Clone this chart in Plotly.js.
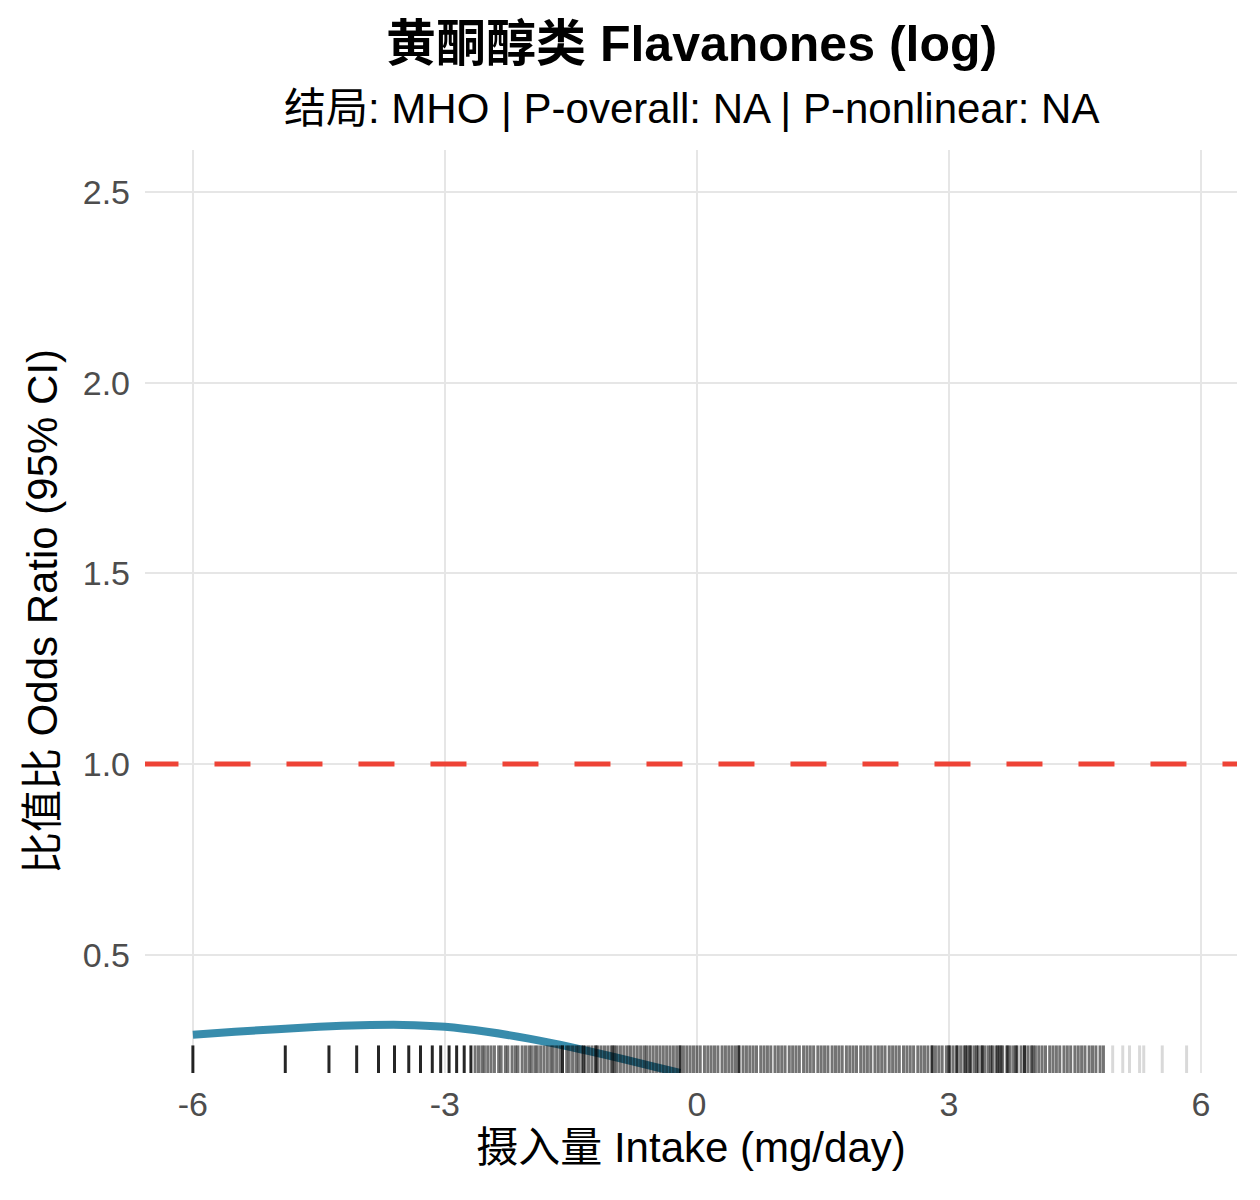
<!DOCTYPE html>
<html>
<head>
<meta charset="utf-8">
<script src="https://cdn.plot.ly/plotly-3.0.1.min.js"></script>
<style>body{margin:0;background:#fff}</style>
</head>
<body>
<div id="chart" style="width:1260px;height:1200px"></div>
<script>
// spline curve (OR)
var curveX = [-6.0, -5.5, -5.0, -4.5, -4.0, -3.5, -3.0, -2.5, -2.0, -1.5, -1.0, -0.5, -0.2];
var curveY = [0.290, 0.298, 0.305, 0.311, 0.315, 0.316, 0.311, 0.298, 0.280, 0.258, 0.233, 0.206, 0.190];

// rug of observed intakes (log mg/day)
var rugSparse = [-6.0, -4.9, -4.38, -4.05, -3.79, -3.6, -3.43, -3.29, -3.15, -3.05, -2.95, -2.86, -2.77, -2.69];
var rugDense = [-2.64, -2.6, -2.56, -2.53, -2.49, -2.45, -2.41, -2.36, -2.33, -2.28, -2.25, -2.2, -2.16, -2.13, -2.08,
  -2.04, -2.0, -1.97, -1.93, -1.9, -1.86, -1.82, -1.78, -1.74, -1.71, -1.67, -1.63, -1.6, -1.55, -1.52, -1.48,
  -1.44, -1.41, -1.37, -1.33, -1.29, -1.25, -1.21, -1.18, -1.14, -1.1, -1.06, -1.02, -0.98, -0.95, -0.91, -0.87,
  -0.83, -0.79, -0.75, -0.71, -0.67, -0.63, -0.6, -0.56, -0.52, -0.48, -0.44, -0.4, -0.36, -0.32, -0.28, -0.24,
  -0.2, -0.16, -0.12, -0.08, -0.04, 0.0, 0.04, 0.09, 0.13, 0.17, 0.21, 0.25, 0.3, 0.34, 0.38, 0.42, 0.46, 0.5,
  0.55, 0.59, 0.63, 0.67, 0.71, 0.76, 0.8, 0.84, 0.88, 0.93, 0.97, 1.01, 1.05, 1.1, 1.14, 1.18, 1.22, 1.27, 1.31,
  1.35, 1.39, 1.44, 1.48, 1.52, 1.56, 1.61, 1.65, 1.69, 1.73, 1.78, 1.82, 1.86, 1.9, 1.95, 1.99, 2.03, 2.07, 2.12,
  2.16, 2.2, 2.24, 2.29, 2.33, 2.37, 2.41, 2.46, 2.5, 2.54, 2.58, 2.63, 2.67, 2.71, 2.75, 2.8, 2.84, 2.88, 2.92,
  2.97, 3.01, 3.05, 3.09, 3.14, 3.18, 3.22, 3.26, 3.3, 3.35, 3.39, 3.43, 3.47, 3.52, 3.56, 3.6, 3.64, 3.69, 3.73,
  3.77, 3.81, 3.86, 3.9, 3.94, 3.98, 4.03, 4.07, 4.11, 4.15, 4.2, 4.24, 4.28, 4.32, 4.37, 4.41, 4.45, 4.5, 4.54,
  4.58, 4.62, 4.67, 4.71, 4.75, 4.8, 4.84];
var rugDark = [-1.6, -1.35, -1.2, -1.0, -0.2, 0.5, 2.8, 3.0, 3.1, 3.2, 3.25, 3.33, 3.4, 3.5, 3.58, 3.62, 3.7, 3.8, 3.9, 4.0];
var rugFaint = [4.95, 5.07, 5.15, 5.27, 5.32, 5.54, 5.83];

var xTicks = [-6, -3, 0, 3, 6];
var yTicks = [0.5, 1.0, 1.5, 2.0, 2.5];

function rug(xs, op, w) {
  return {
    x: xs, y: xs.map(function () { return 0.5; }), yaxis: 'y2',
    mode: 'markers', type: 'scatter', hoverinfo: 'skip',
    marker: {symbol: 'line-ns-open', size: 20, opacity: op, color: '#000', line: {color: '#000', width: w}}
  };
}

var data = [
  {x: [-6.6, 6.45], y: [1, 1], mode: 'lines', line: {color: '#ee4336', width: 5, dash: '36px,36px'}},
  rug(rugSparse, 0.85, 3),
  rug(rugDense, 0.55, 3),
  rug(rugDark, 0.6, 3),
  rug(rugFaint, 0.15, 3),
  {x: curveX, y: curveY, mode: 'lines', opacity: 0.95, line: {color: '#2e86a8', width: 8, shape: 'spline'}}
];

var layout = {
  width: 1260, height: 1200, showlegend: false,
  paper_bgcolor: '#fff', plot_bgcolor: '#fff',
  margin: {l: 145, r: 23, t: 150, b: 127},
  font: {family: 'Liberation Sans, Arial, Noto Sans CJK SC', color: '#000'},
  xaxis: {range: [-6.57, 6.43], tickvals: xTicks, ticktext: xTicks.map(String), zeroline: false,
    gridcolor: '#e6e6e6', gridwidth: 2, tickfont: {size: 34, color: '#4d4d4d'}, ticks: '', ticklabelstandoff: 8,
    title: {text: '摄入量 Intake (mg/day)', font: {size: 42}, standoff: 10}},
  yaxis: {range: [0.19, 2.61], tickvals: yTicks, ticktext: ['0.5', '1.0', '1.5', '2.0', '2.5'], zeroline: false,
    gridcolor: '#e6e6e6', gridwidth: 2, tickfont: {size: 34, color: '#4d4d4d'}, ticklabelstandoff: 14,
    title: {text: '比值比 Odds Ratio (95% CI)', font: {size: 42}, standoff: 12}},
  yaxis2: {overlaying: 'y', range: [0, 34], visible: false, fixedrange: true},
  annotations: [
    {xref: 'paper', yref: 'paper', x: 0.5, y: 1, yanchor: 'middle', yshift: 106, showarrow: false,
     text: '<b>黄酮醇类 Flavanones (log)</b>', font: {size: 50, color: '#000'}},
    {xref: 'paper', yref: 'paper', x: 0.5, y: 1, yanchor: 'middle', yshift: 42, showarrow: false,
     text: '结局: MHO | P-overall: NA | P-nonlinear: NA', font: {size: 42, color: '#000'}}
  ]
};

Plotly.newPlot('chart', data, layout, {displayModeBar: false});
</script>
</body>
</html>
